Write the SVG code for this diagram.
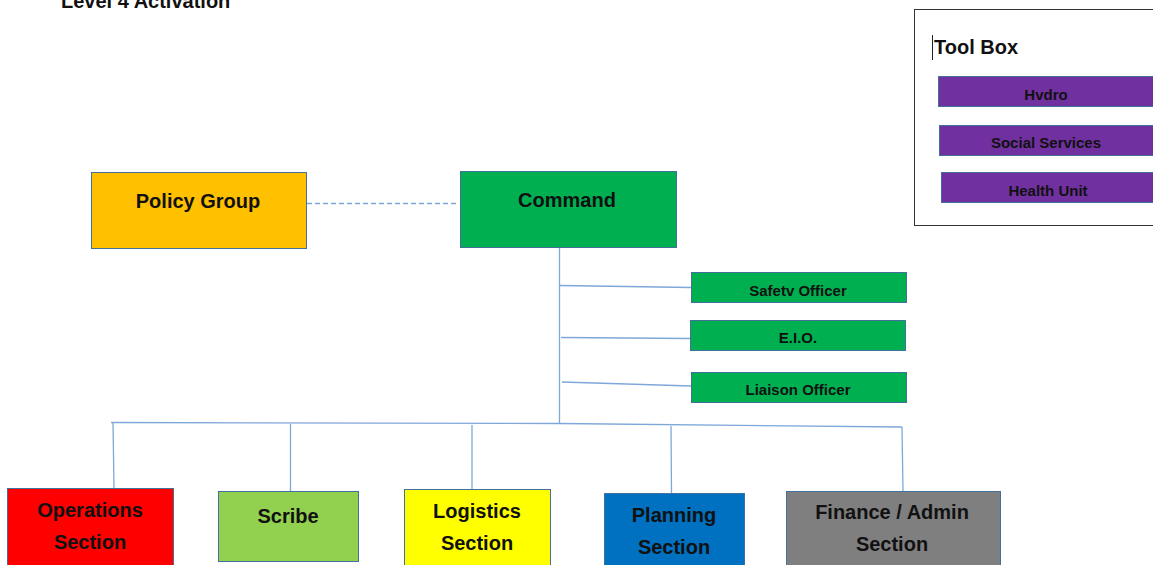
<svg xmlns="http://www.w3.org/2000/svg" width="1153" height="565" viewBox="0 0 1153 565">
<style>
.box{stroke:#41719C;stroke-width:1}
.t{font-family:"Liberation Sans",Arial,sans-serif;font-weight:bold;fill:#111;text-anchor:middle}
.l{font-size:20px}
.s{font-size:15px}
.c{fill:none;stroke:#7FA7DA;stroke-width:1.3}
</style>
<rect width="1153" height="565" fill="#fff"/>
<text class="t" x="61" y="8" style="text-anchor:start;font-size:20px">Level 4 Activation</text>
<g id="toolbox">
<rect x="914.5" y="9.5" width="260" height="216" fill="#fff" stroke="#333" stroke-width="1"/>
<line x1="932.5" y1="35" x2="932.5" y2="60" stroke="#222" stroke-width="1"/>
<text class="t" x="934" y="54" style="text-anchor:start;font-size:20px">Tool Box</text>
</g>
<g id="hydro"><rect class="box" x="938.5" y="76.5" width="230" height="30" fill="#7030A0"/><text class="t s" x="1046" y="100">Hvdro</text></g>
<g id="social"><rect class="box" x="939.5" y="125.5" width="230" height="30" fill="#7030A0"/><text class="t s" x="1046" y="148">Social Services</text></g>
<g id="health"><rect class="box" x="941.5" y="172.5" width="230" height="30" fill="#7030A0"/><text class="t s" x="1048" y="196">Health Unit</text></g>
<g id="connectors">
<line x1="307" y1="203.5" x2="459" y2="203.5" class="c" stroke-dasharray="5,3"/>
<line x1="559.5" y1="248" x2="559.5" y2="423" class="c"/>
<line x1="560" y1="285.5" x2="691" y2="287.5" class="c"/>
<line x1="561" y1="337.5" x2="690" y2="338.5" class="c"/>
<line x1="562" y1="382" x2="691" y2="386" class="c"/>
<polyline points="111,422.5 559,423.5 902,427" class="c"/>
<line x1="113" y1="422.5" x2="114" y2="488" class="c"/>
<line x1="290.5" y1="424" x2="290.5" y2="491" class="c"/>
<line x1="472" y1="425" x2="472" y2="489" class="c"/>
<line x1="671" y1="426" x2="671.5" y2="493" class="c"/>
<line x1="902" y1="427" x2="903" y2="491" class="c"/>
</g>
<g id="policy"><rect class="box" x="91.5" y="172.5" width="215" height="76" fill="#FFC000"/><text class="t l" x="198" y="208">Policy Group</text></g>
<g id="command"><rect class="box" x="460.5" y="171.5" width="216" height="76" fill="#00B050"/><text class="t l" x="567" y="207">Command</text></g>
<g id="safety"><rect class="box" x="691.5" y="272.5" width="215" height="30" fill="#00B050"/><text class="t s" x="798" y="296">Safetv Officer</text></g>
<g id="eio"><rect class="box" x="690.5" y="320.5" width="215" height="30" fill="#00B050"/><text class="t s" x="798" y="343">E.I.O.</text></g>
<g id="liaison"><rect class="box" x="691.5" y="372.5" width="215" height="30" fill="#00B050"/><text class="t s" x="798" y="395">Liaison Officer</text></g>
<g id="operations"><rect class="box" x="7.5" y="488.5" width="166" height="80" fill="#FF0000"/><text class="t l" x="90" y="517">Operations</text><text class="t l" x="90" y="549">Section</text></g>
<g id="scribe"><rect class="box" x="218.5" y="491.5" width="140" height="70" fill="#92D050"/><text class="t l" x="288" y="523">Scribe</text></g>
<g id="logistics"><rect class="box" x="404.5" y="489.5" width="146" height="80" fill="#FFFF00"/><text class="t l" x="477" y="518">Logistics</text><text class="t l" x="477" y="550">Section</text></g>
<g id="planning"><rect class="box" x="604.5" y="493.5" width="140" height="80" fill="#0070C0"/><text class="t l" x="674" y="522">Planning</text><text class="t l" x="674" y="554">Section</text></g>
<g id="finance"><rect class="box" x="786.5" y="491.5" width="214" height="80" fill="#7F7F7F"/><text class="t l" x="892" y="519">Finance / Admin</text><text class="t l" x="892" y="551">Section</text></g>
</svg>
